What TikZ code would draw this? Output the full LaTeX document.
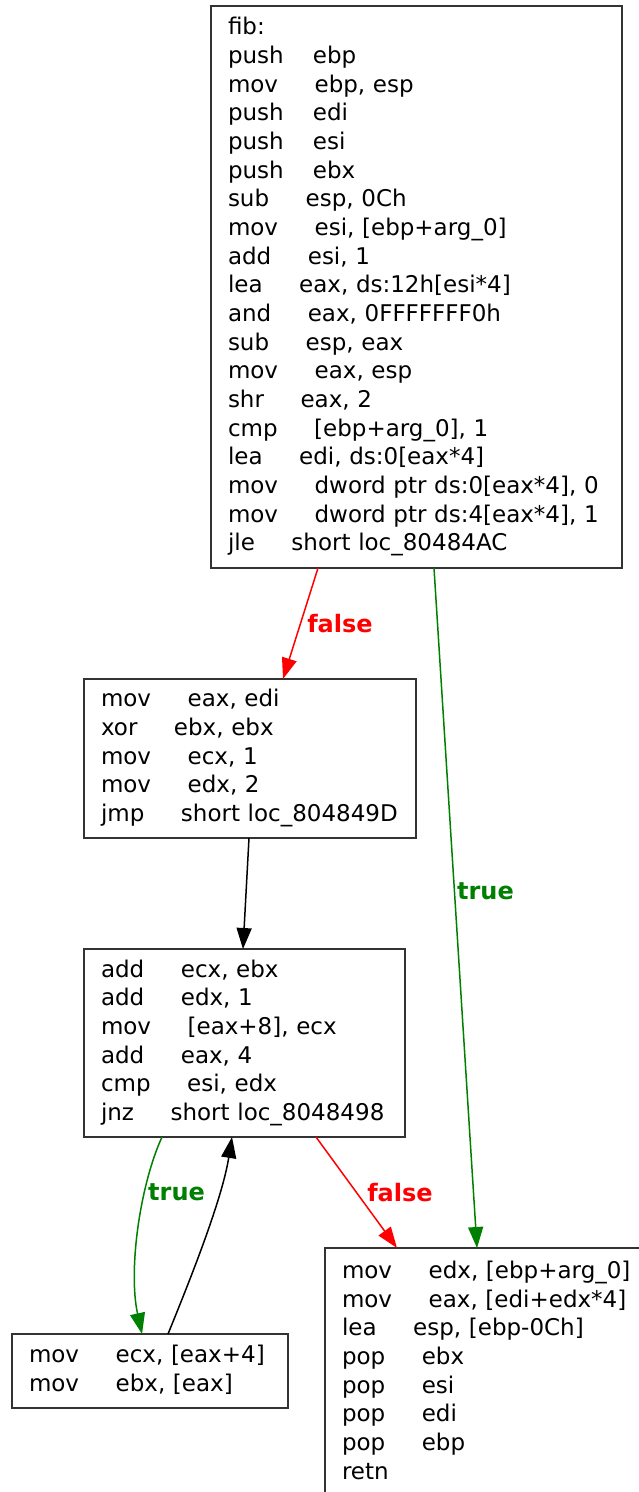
\documentclass[tikz,border=0pt]{standalone}
\usepackage{fontspec}
\setmainfont{DejaVu Sans}
\usetikzlibrary{arrows.meta}

% one instruction: mnemonic, padding in spaces, operands
\newcommand{\ins}[3][5]{#2\hspace{#1\fontdimen2\font}#3\strut}

\begin{document}
\begin{tikzpicture}[x=1pt,y=-1pt,
  block/.style={draw=black!80, line width=2.2pt, anchor=north west, outer sep=0pt,
    inner xsep=17pt, inner ysep=0pt, align=left,
    font=\fontsize{23}{28.67}\selectfont},
  jump/.style={-{Triangle[length=21pt,width=15pt]}, line width=1.5pt},
  taken/.style={jump, green!50!black},
  nottaken/.style={jump, red},
  lbl/.style={font=\fontsize{24}{28}\selectfont\bfseries, inner sep=0pt, anchor=west}]

\useasboundingbox (0,0) rectangle (639,1492);

% Entry block
\node[block, text width=377pt, minimum height=562pt] (entry) at (211,6) {%
fib:\strut\\
\ins[4]{push}{ebp}\\
\ins{mov}{ebp, esp}\\
\ins[4]{push}{edi}\\
\ins[4]{push}{esi}\\
\ins[4]{push}{ebx}\\
\ins{sub}{esp, 0Ch}\\
\ins{mov}{esi, [ebp+arg\_0]}\\
\ins{add}{esi, 1}\\
\ins{lea}{eax, ds:12h[esi*4]}\\
\ins{and}{eax, 0FFFFFFF0h}\\
\ins{sub}{esp, eax}\\
\ins{mov}{eax, esp}\\
\ins{shr}{eax, 2}\\
\ins{cmp}{[ebp+arg\_0], 1}\\
\ins{lea}{edi, ds:0[eax*4]}\\
\ins{mov}{dword ptr ds:0[eax*4], 0}\\
\ins{mov}{dword ptr ds:4[eax*4], 1}\\
\ins{jle}{short loc\_80484AC}};

% Loop setup
\node[block, text width=298pt, minimum height=159pt] (init) at (84,679) {%
\ins{mov}{eax, edi}\\
\ins{xor}{ebx, ebx}\\
\ins{mov}{ecx, 1}\\
\ins{mov}{edx, 2}\\
\ins{jmp}{short loc\_804849D}};

% Loop test
\node[block, text width=287pt, minimum height=188pt] (loop) at (84,949) {%
\ins{add}{ecx, ebx}\\
\ins{add}{edx, 1}\\
\ins{mov}{[eax+8], ecx}\\
\ins{add}{eax, 4}\\
\ins{cmp}{esi, edx}\\
\ins{jnz}{short loc\_8048498}};

% Loop body
\node[block, text width=242pt, minimum height=74pt] (body) at (12,1334) {%
\ins{mov}{ecx, [eax+4]}\\
\ins{mov}{ebx, [eax]}};

% Exit block (runs past the right and bottom edges)
\node[block, text width=300pt, minimum height=250pt] (exit) at (325,1248) {%
\ins{mov}{edx, [ebp+arg\_0]}\\
\ins{mov}{eax, [edi+edx*4]}\\
\ins{lea}{esp, [ebp-0Ch]}\\
\ins{pop}{ebx}\\
\ins{pop}{esi}\\
\ins{pop}{edi}\\
\ins{pop}{ebp}\\
retn\strut};

% Branches
\draw[nottaken] ([xshift=107pt]entry.south west) -- ([xshift=199pt]init.north west)
  node[lbl, red, pos=.5, xshift=6pt] {false};
\draw[taken] ([xshift=223pt]entry.south west) -- ([xshift=152pt]exit.north west)
  node[lbl, green!50!black, pos=.475, xshift=2pt] {true};
\draw[jump] ([xshift=165pt]init.south west) -- ([xshift=159pt]loop.north west);
\draw[taken] ([xshift=78pt]loop.south west) .. controls (140,1185) and (128,1270) .. ([xshift=130pt]body.north west)
  node[lbl, green!50!black, pos=.32, xshift=3pt] {true};
\draw[jump] ([xshift=156pt]body.north west) .. controls (190,1280) and (222,1200) .. ([xshift=148pt]loop.south west);
\draw[nottaken] ([xshift=232pt]loop.south west) -- ([xshift=72pt]exit.north west)
  node[lbl, red, pos=.5, xshift=10pt] {false};

\end{tikzpicture}
\end{document}
